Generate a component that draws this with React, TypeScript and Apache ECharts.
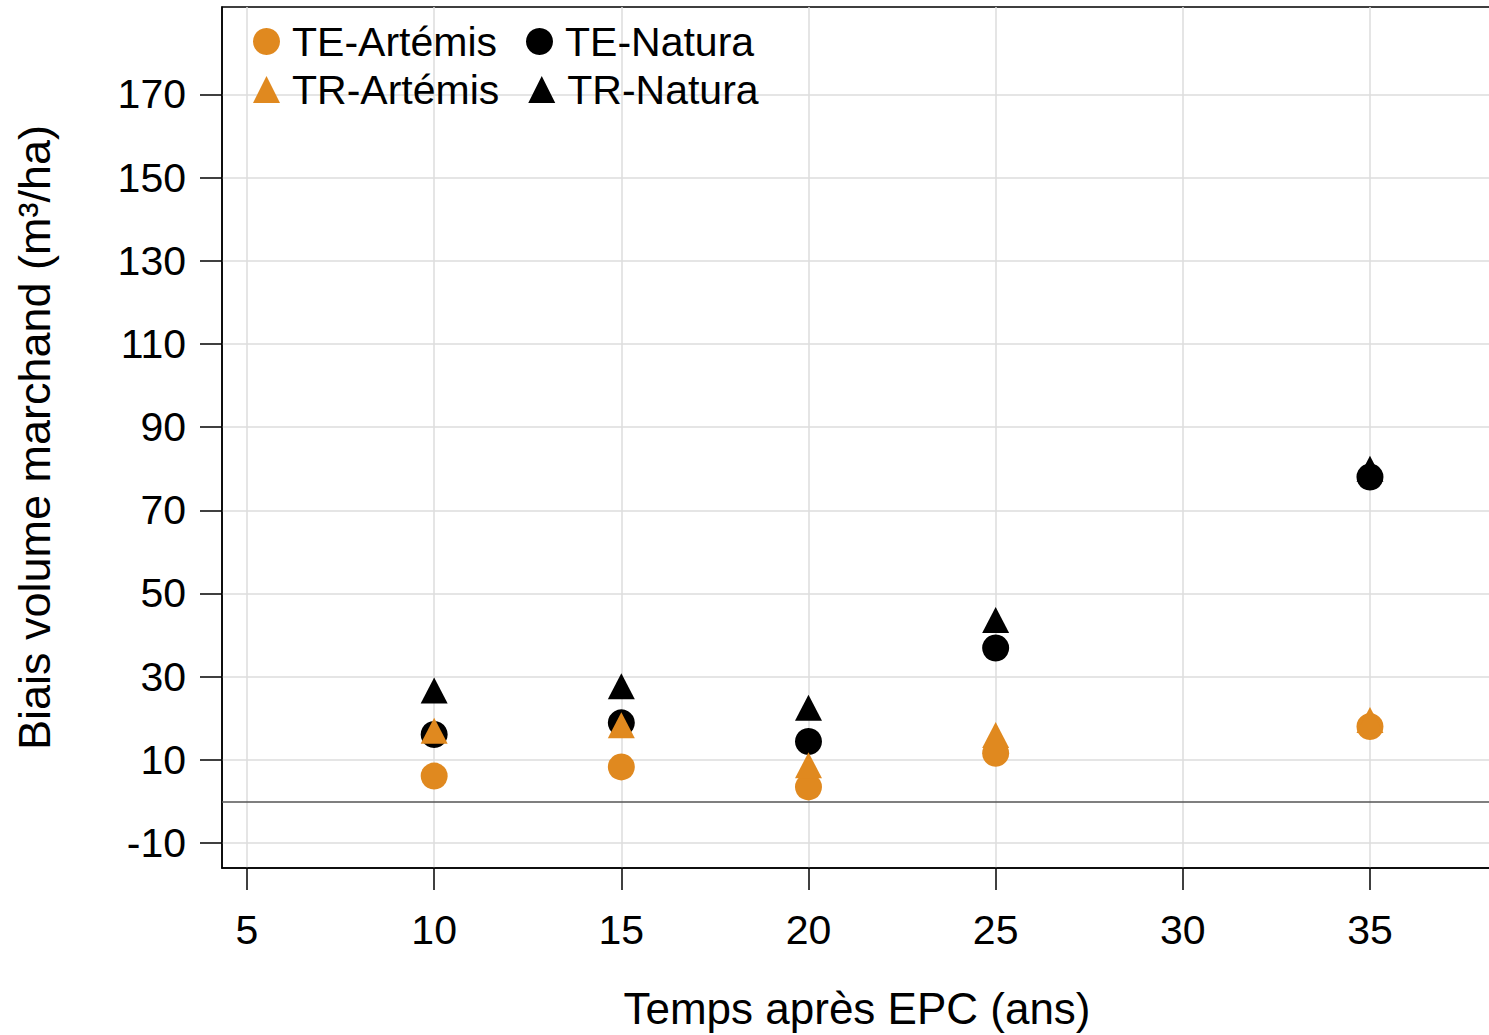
import React, { useEffect, useRef } from "react";
import * as echarts from "echarts";

const xTicks = [5, 10, 15, 20, 25, 30, 35];
const yTicks = [-10, 10, 30, 50, 70, 90, 110, 130, 150, 170];
const years = [10, 15, 20, 25, 35];
const teArtemis = [6.1, 8.3, 3.5, 11.6, 18.0];
const teNatura = [16.1, 18.9, 14.4, 36.9, 78.0];
const trArtemis = [17.0, 18.3, 8.7, 16.0, 19.6];
const trNatura = [26.7, 27.7, 22.5, 43.6, 80.0];

const ORANGE = "#E0891F";
const BLACK = "#000000";
const FONT = "Liberation Sans, Arial, sans-serif";

const pts = (vals: number[]) => years.map((x, i) => [x, vals[i]]);

export default function App() {
  const ref = useRef<HTMLDivElement>(null);
  useEffect(() => {
    if (!ref.current) return;
    const chart = echarts.init(ref.current, null, { renderer: "svg" });
    const legendCommon = {
      left: 248,
      orient: "horizontal" as const,
      itemWidth: 27,
      itemHeight: 27,
      itemGap: 29,
      textStyle: { fontSize: 41, color: "#000", fontFamily: FONT, padding: [0, 0, 0, 7] },
    };
    chart.setOption({
      animation: false,
      backgroundColor: "#fff",
      grid: {
        left: 222,
        top: 7,
        right: -3,
        bottom: 1035 - 868,
        show: true,
        borderColor: "#000",
        borderWidth: 1.5,
        backgroundColor: "transparent",
        outerBoundsMode: "none",
        containLabel: false,
      },
      legend: [
        { ...legendCommon, top: 16, data: [{ name: "TE-Artémis", icon: "circle" }, { name: "TE-Natura", icon: "circle" }] },
        { ...legendCommon, top: 64, data: [{ name: "TR-Artémis", icon: "triangle" }, { name: "TR-Natura", icon: "triangle" }] },
      ],
      xAxis: {
        type: "value",
        min: 4.332,
        max: 38.26,
        name: "Temps après EPC (ans)",
        nameLocation: "middle",
        nameGap: 118,
        nameTextStyle: { fontSize: 44, color: "#000", fontFamily: FONT, lineHeight: 44 },
        axisLine: { show: true, onZero: false, lineStyle: { color: "#000", width: 1.5 } },
        axisTick: { show: true, length: 22, customValues: xTicks, lineStyle: { color: "#000", width: 1.5 } },
        axisLabel: { customValues: xTicks, fontSize: 41, color: "#000", fontFamily: FONT, margin: 41 },
        splitLine: { show: true, lineStyle: { color: "#DDDDDD", width: 1.5 } },
      },
      yAxis: {
        type: "value",
        min: -16,
        max: 191,
        name: "Biais volume marchand (m³/ha)",
        nameLocation: "middle",
        nameGap: 165,
        nameRotate: 90,
        nameTextStyle: { fontSize: 45, color: "#000", fontFamily: FONT },
        axisLine: { show: true, onZero: false, lineStyle: { color: "#000", width: 1.5 } },
        axisTick: { show: true, length: 22, customValues: yTicks, lineStyle: { color: "#000", width: 1.5 } },
        axisLabel: { customValues: yTicks, fontSize: 41, color: "#000", fontFamily: FONT, margin: 36 },
        splitLine: { show: true, lineStyle: { color: "#DDDDDD", width: 1.5 } },
      },
      series: [
        {
          name: "TE-Artémis",
          type: "scatter",
          symbol: "circle",
          symbolSize: 27,
          itemStyle: { color: ORANGE, opacity: 1 },
          data: pts(teArtemis),
          z: 3,
          markLine: {
            silent: true,
            symbol: "none",
            label: { show: false },
            lineStyle: { color: "#555", width: 1.5, type: "solid" },
            data: [{ yAxis: 0 }],
          },
        },
        {
          name: "TE-Natura",
          type: "scatter",
          symbol: "circle",
          symbolSize: 27,
          itemStyle: { color: BLACK, opacity: 1 },
          data: pts(teNatura),
          z: 2,
        },
        {
          name: "TR-Artémis",
          type: "scatter",
          symbol: "triangle",
          symbolSize: [27, 26],
          itemStyle: { color: ORANGE, opacity: 1 },
          data: pts(trArtemis),
          z: 4,
        },
        {
          name: "TR-Natura",
          type: "scatter",
          symbol: "triangle",
          symbolSize: [27, 26],
          itemStyle: { color: BLACK, opacity: 1 },
          data: pts(trNatura),
          z: 1,
        },
      ],
    });
    return () => chart.dispose();
  }, []);
  return (
    <div
      ref={ref}
      style={{ position: "fixed", left: 0, top: 0, width: 1489, height: 1035, background: "#fff" }}
    />
  );
}
